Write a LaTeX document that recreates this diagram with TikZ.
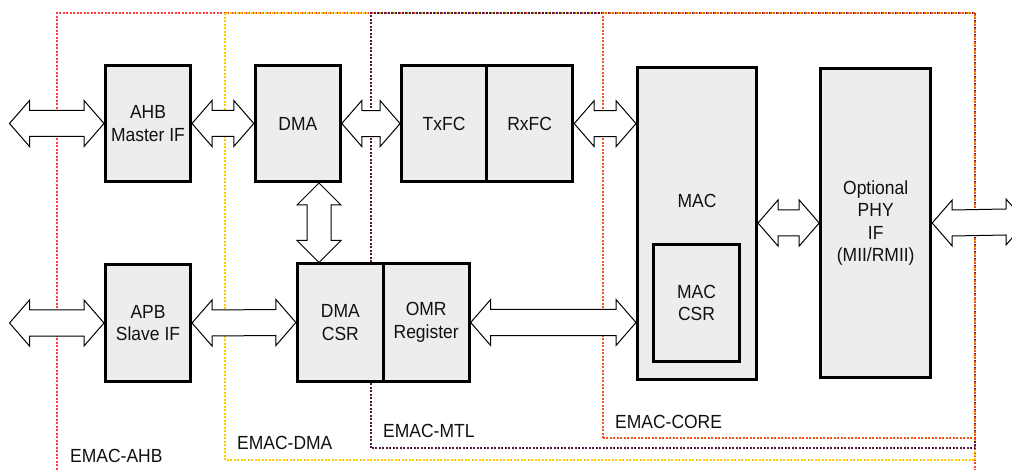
\documentclass[tikz,border=0pt]{standalone}
\usepackage{fontspec}
\setmainfont{Liberation Sans}[FakeStretch=0.92]
\usetikzlibrary{calc}
\definecolor{boxfill}{HTML}{EDEDED}
\definecolor{cAHB}{HTML}{FF3B3B}
\definecolor{cDMA}{HTML}{FFCC00}
\definecolor{cMTL}{HTML}{4A1942}
\definecolor{cCORE}{HTML}{EE5522}
\definecolor{txt}{HTML}{111111}
\tikzset{
  blk/.style={draw=black, line width=3pt, fill=boxfill, inner sep=0pt,
    align=center, text=txt, font=\fontsize{19}{22.5}\selectfont},
  dblarr/.style={draw=black, line width=1pt, fill=white, line join=miter},
  region/.style={line width=2pt, dash pattern=on 2pt off 1.5pt},
  reglabel/.style={anchor=base west, inner sep=0pt, text=txt, font=\fontsize{19}{22}\selectfont},
}
\newcommand{\hdarrow}[2]{%
  \draw[dblarr] (#1) -- ++(20,-23) -- ++(0,10) -- ($(#2)+(-20,-13)$) -- ++(0,-10) -- (#2)
    -- ++(-20,23) -- ++(0,-10) -- ($(#1)+(20,13)$) -- ++(0,10) -- cycle;}
\newcommand{\vdarrow}[2]{%
  \draw[dblarr] (#1) -- ++(22,22) -- ++(-10,0) -- ($(#2)+(12,-22)$) -- ++(10,0) -- (#2)
    -- ++(-22,-22) -- ++(10,0) -- ($(#1)+(-12,22)$) -- ++(-10,0) -- cycle;}
\begin{document}
\begin{tikzpicture}[x=1pt, y=-1pt]
\useasboundingbox (0,0) rectangle (1012,470);

% regions
\draw[region, cAHB] (57,480) -- (57,13) -- (975,13) -- (975,480);
\draw[region, cDMA] (225,460) -- (225,13) -- (975,13) -- (975,460) -- cycle;
\draw[region, cMTL] (371,448) -- (371,13) -- (975,13) -- (975,448) -- cycle;
\draw[region, cCORE] (603,438) -- (603,13) -- (975,13) -- (975,438) -- cycle;

% blocks
\node[blk, minimum width=85pt, minimum height=116pt] (ahb) at (148,123.5) {AHB\\Master IF};
\node[blk, minimum width=85pt, minimum height=116pt] (dma) at (297.8,123.5) {DMA};
\node[blk, minimum width=85pt, minimum height=116pt] (txfc) at (444.1,123.6) {TxFC};
\node[blk, minimum width=86pt, minimum height=116pt] (rxfc) at (529.7,123.6) {RxFC};
\node[blk, minimum width=119pt, minimum height=312pt] (mac) at (697,223.5) {};
\node[inner sep=0pt, text=txt, font=\fontsize{19}{22}\selectfont] (maclbl) at (697,201) {MAC};
\node[blk, minimum width=86pt, minimum height=117pt] (maccsr) at (696.5,303) {MAC\\CSR};
\node[blk, minimum width=110pt, minimum height=309pt] (phy) at (875.7,223) {Optional\\PHY\\IF\\(MII/RMII)};
\node[blk, minimum width=85pt, minimum height=117pt] (apb) at (148,323) {APB\\Slave IF};
\node[blk, minimum width=86pt, minimum height=117pt] (dmacsr) at (340.4,322.5) {DMA\\CSR};
\node[blk, minimum width=86pt, minimum height=117pt] (omr) at (426.2,322.5) {OMR\\Register};

% free ends
\coordinate (ahbext) at (9.5,123.5);
\coordinate (apbext) at (9.5,323);
\coordinate (phyext) at (1026,222);

% arrows
\hdarrow{ahbext}{ahb.west}
\hdarrow{ahb.east}{dma.west}
\hdarrow{dma.east}{txfc.west}
\hdarrow{rxfc.east}{mac.west |- rxfc.east}
\hdarrow{mac.east |- phy.west}{phy.west}
\hdarrow{phy.east}{phyext}
\hdarrow{apbext}{apb.west}
\hdarrow{apb.east}{dmacsr.west}
\hdarrow{omr.east}{mac.west |- omr.east}
\vdarrow{dma.south -| 319,0}{dmacsr.north -| 319,0}

% labels
\node[reglabel] (lahb) at (70,462) {EMAC-AHB};
\node[reglabel] (ldma) at (237,449) {EMAC-DMA};
\node[reglabel] (lmtl) at (383,437) {EMAC-MTL};
\node[reglabel] (lcore) at (615,428) {EMAC-CORE};
\end{tikzpicture}
\end{document}
